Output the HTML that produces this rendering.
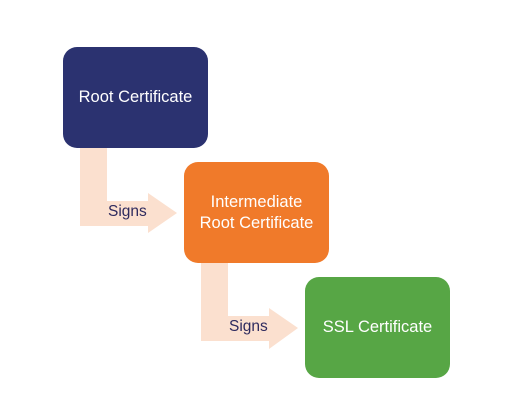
<!DOCTYPE html>
<html><head><style>
body{margin:0;width:531px;height:414px;background:#fff;position:relative;overflow:hidden;font-family:"Liberation Sans",sans-serif}
.b{position:absolute;width:145px;height:101px;border-radius:14px;color:#fff;font-size:16.5px;display:flex;align-items:center;justify-content:center;text-align:center;line-height:21px}
.s{position:absolute;font-size:15.5px;color:#2e2a5e}
</style></head><body>
<svg width="531" height="414" style="position:absolute;left:0;top:0">
<path d="M80 148 H107 V201 H148 V193 L177 213 L148 233 V226 H80 Z" fill="#fbe0cf"/>
<path d="M201 262 H228 V316 H269 V308 L298 328 L269 349 V341 H201 Z" fill="#fbe0cf"/>
</svg>
<div class="b" style="left:63px;top:47px;background:#2b3270">Root Certificate</div>
<div class="b" style="left:184px;top:162px;background:#f07a2a">Intermediate<br>Root Certificate</div>
<div class="b" style="left:305px;top:277px;background:#57a645">SSL Certificate</div>
<div class="s" style="left:108px;top:203px">Signs</div>
<div class="s" style="left:229px;top:318px">Signs</div>
</body></html>
